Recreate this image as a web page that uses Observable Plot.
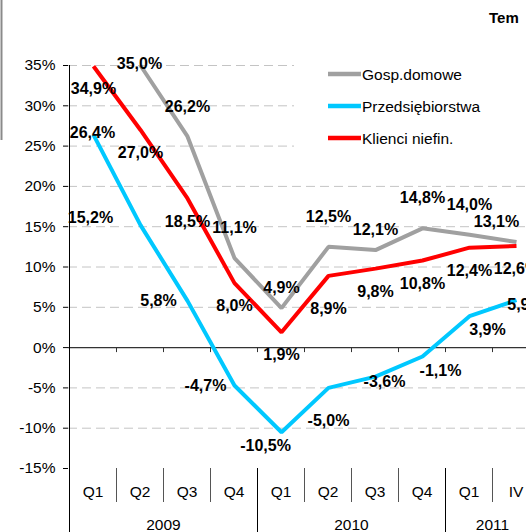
<!DOCTYPE html>
<html><head><meta charset="utf-8">
<script src="https://cdn.jsdelivr.net/npm/d3@7"></script>
<script src="https://cdn.jsdelivr.net/npm/@observablehq/plot@0.6"></script>
<style>
html,body{margin:0;padding:0;background:#fff;overflow:hidden;width:526px;height:532px}
#chart{position:relative;width:526px;height:532px;overflow:hidden}
#chart svg{position:absolute;left:0;top:0;max-width:none !important;height:532px !important;width:545px !important}
</style></head><body><div id="chart"></div>
<script>
// ---- data ----
const quarters = ["Q1","Q2","Q3","Q4","Q1","Q2","Q3","Q4","Q1","IV"];
const years = ["2009","2010","2011"];
const yearOfQuarter = [0,0,0,0,1,1,1,1,2,2];
const seriesNames = ["Gosp.domowe","Przedsiębiorstwa","Klienci niefin."];
const gosp    = [null, 35.0, 26.2, 11.1, 4.9, 12.5, 12.1, 14.8, 14.0, 13.1];
const przeds  = [26.4, 15.2, 5.8, -4.7, -10.5, -5.0, -3.6, -1.1, 3.9, 5.9];
const klienci = [34.9, 27.0, 18.5, 8.0, 1.9, 8.9, 9.8, 10.8, 12.4, 12.6];
const yTicks = [35, 30, 25, 20, 15, 10, 5, 0, -5, -10, -15];
const title = "Tem";
// label placement keywords (like Excel label positions)
const gospPos    = [null,"c","a","a","as","a","as","a","a","al"];
const przedsPos  = ["c","ll","l","l","bl","bb","r","br","br","r"];
const klienciPos = ["b","b","b","b","b","bb","b","b","b","b"];

// ---- styles ----
const colors = ["#a0a0a0", "#00c8ff", "#ff0000"];
const placement = {
  c: [-1,-2], a: [0,-30], as: [0,-20], al: [-20,-20],
  b: [0,23], bb: [0,33], bl: [-16,14], l: [-29,0], ll: [-50,-7],
  r: [9,5], br: [18,14]
};
const FONT = "'Liberation Sans', Arial, sans-serif";
const fmt = v => v.toFixed(1).replace(".", ",") + "%";

const allVals = [gosp, przeds, klienci];
const allPos = [gospPos, przedsPos, klienciPos];
const rows = [];
allVals.forEach((vals, s) => vals.forEach((v, i) => {
  if (v != null) rows.push({i, v, s, name: seriesNames[s], pos: allPos[s][i], label: fmt(v)});
}));

const W = 545, H = 532;
const labelMarks = Object.entries(placement).map(([k, [dx, dy]]) =>
  Plot.text(rows.filter(d => d.pos === k), {
    x: "i", y: "v", text: "label", dx, dy,
    fontSize: 16, fontWeight: "bold", fill: "#000",
    textAnchor: "middle", lineAnchor: "middle"
  })
);

const plot = Plot.plot({
  width: W, height: H,
  marginLeft: 68, marginRight: 4.5, marginTop: 65, marginBottom: 64,
  style: {fontFamily: FONT, background: "transparent", color: "#000", maxWidth: "none"},
  x: {type: "point", domain: d3.range(quarters.length), padding: 0.5, axis: null},
  y: {domain: [-15, 35], axis: null},
  marks: [
    Plot.gridY(yTicks.filter(t => t > -15 && t !== 0), {stroke: "#c4c4c4", strokeOpacity: 1, strokeDasharray: "9,5"}),
    Plot.ruleY([0], {stroke: "#333", strokeWidth: 1.2}),
    Plot.axisY(yTicks, {anchor: "left", tickSize: 5, tickPadding: 8, tickFormat: d => d + "%", fontSize: 15.5, label: null, stroke: "#000"}),
    ...[0,1,2].map(s => Plot.line(rows.filter(d => d.s === s), {
      x: "i", y: "v", stroke: colors[s], strokeWidth: 4, strokeLinejoin: "miter", strokeLinecap: "butt"
    })),
    ...labelMarks
  ]
});

document.getElementById("chart").appendChild(plot);

// ---- category axis, y-axis line, legend (using Plot's scales) ----
const sx = plot.scale("x"), sy = plot.scale("y");
const X = sx.apply ? v => sx.apply(v) : d3.scalePoint().domain(sx.domain).range(sx.range).padding(sx.padding ?? 0.5);
const Y = sy.apply ? v => sy.apply(v) : d3.scaleLinear().domain(sy.domain).range(sy.range);
const step = X(1) - X(0);
const svg = d3.select(plot);
const g = svg.append("g").attr("font-family", FONT);

const yBottom = Y(-15);
// y axis line
g.append("line").attr("x1", X(0) - step/2).attr("x2", X(0) - step/2)
  .attr("y1", Y(35)).attr("y2", H).attr("stroke", "#000").attr("stroke-width", 1);
// boundaries
quarters.forEach((q, i) => {
  if (i === 0) return;
  const bx = X(i) - step/2;
  const yearBreak = yearOfQuarter[i] !== yearOfQuarter[i-1];
  g.append("line").attr("x1", bx).attr("x2", bx).attr("y1", Y(0)).attr("y2", Y(0) + 5).attr("stroke", "#333");
  g.append("line").attr("x1", bx).attr("x2", bx).attr("y1", yBottom).attr("y2", yearBreak ? H : yBottom + 34)
    .attr("stroke", yearBreak ? "#000" : "#555").attr("stroke-width", 1);
});
// quarter labels
quarters.forEach((q, i) => {
  g.append("text").attr("x", X(i)).attr("y", yBottom + 29).attr("text-anchor", "middle")
    .attr("font-size", 15.5).attr("fill", "#000").text(q);
});
// year labels
years.forEach((yr, k) => {
  const idx = yearOfQuarter.map((y, i) => y === k ? i : -1).filter(i => i >= 0);
  const cx = d3.mean(idx, i => X(i));
  g.append("text").attr("x", cx).attr("y", H - 2).attr("text-anchor", "middle")
    .attr("font-size", 15.5).attr("fill", "#000").text(yr);
});

// legend
const lg = svg.append("g").attr("font-family", FONT).attr("text-anchor", "start");
lg.append("rect").attr("x", 294).attr("y", 54).attr("width", 260).attr("height", 104).attr("fill", "#fff");
seriesNames.forEach((name, s) => {
  const ly = 74 + s * 32;
  lg.append("line").attr("x1", 328).attr("x2", 361).attr("y1", ly).attr("y2", ly)
    .attr("stroke", colors[s]).attr("stroke-width", 4.5);
  lg.append("text").attr("x", 362).attr("y", ly + 6).attr("font-size", 15.5)
    .attr("text-anchor", "start").attr("fill", "#000").text(name);
});

// left frame remnant and title fragment
svg.append("line").attr("x1", 1.5).attr("x2", 1.5).attr("y1", 0).attr("y2", 140).attr("stroke", "#8a8a8a").attr("stroke-width", 2);
svg.append("text").attr("x", 489).attr("y", 23).attr("font-family", FONT).attr("font-weight", "bold")
  .attr("text-anchor", "start").attr("font-size", 15).attr("fill", "#000").text(title);
</script>
</body></html>
